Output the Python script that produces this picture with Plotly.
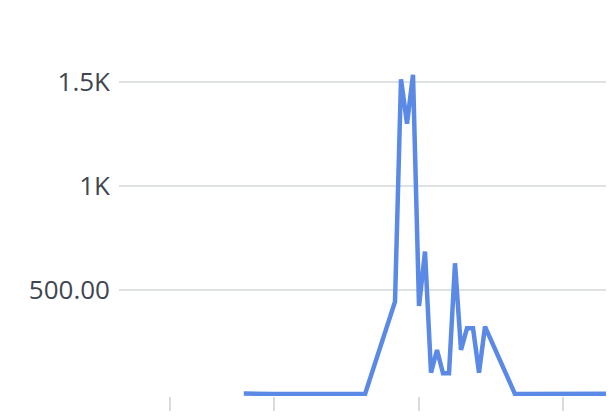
import plotly.graph_objects as go

# Data (x in time-step units, y in counts)
x_vals = [20.8, 22.5, 25.7, 30, 35, 41, 46, 47, 48, 49, 50, 51, 52, 53, 54, 55,
          56, 57, 58, 59, 60, 61, 66, 70, 74, 76.3, 77.1, 79, 85]
y_vals = [4, 2, 1, 1, 1, 1, 445, 1512, 1299, 1533, 424, 685, 104, 213, 101, 101,
          629, 213, 317, 317, 104, 325, 1, 2, 3, 1, 5, 3, 3]

y_tick_vals = [500, 1000, 1500]
y_tick_text = ["500.00", "1K", "1.5K"]
x_tick_vals = [8.5, 25.83, 50, 74]

fig = go.Figure()
fig.add_trace(go.Scatter(
    x=x_vals, y=y_vals, mode="lines",
    line=dict(color="#5B8AE6", width=4.5),
    hoverinfo="skip", showlegend=False,
))

fig.update_layout(
    width=614, height=418,
    margin=dict(l=111, r=0, t=0, b=30),
    paper_bgcolor="white", plot_bgcolor="white",
    font=dict(family="Open Sans", size=26, color="#3f4651"),
    showlegend=False,
)
fig.update_xaxes(
    range=[0, 83.83], tickvals=x_tick_vals, showticklabels=False,
    ticks="outside", ticklen=14, tickwidth=1.5, tickcolor="#d9dcdd",
    showgrid=False, zeroline=False, showline=False,
)
fig.update_yaxes(
    range=[-8, 1854], tickvals=y_tick_vals, ticktext=y_tick_text,
    tickfont=dict(family="Open Sans", size=26, color="#3f4651", weight=500),
    showgrid=True, gridcolor="#dfe2e3", gridwidth=1.5,
    zeroline=False, showline=False, ticks="", ticklabelstandoff=8,
)

fig.write_html("out.html")
